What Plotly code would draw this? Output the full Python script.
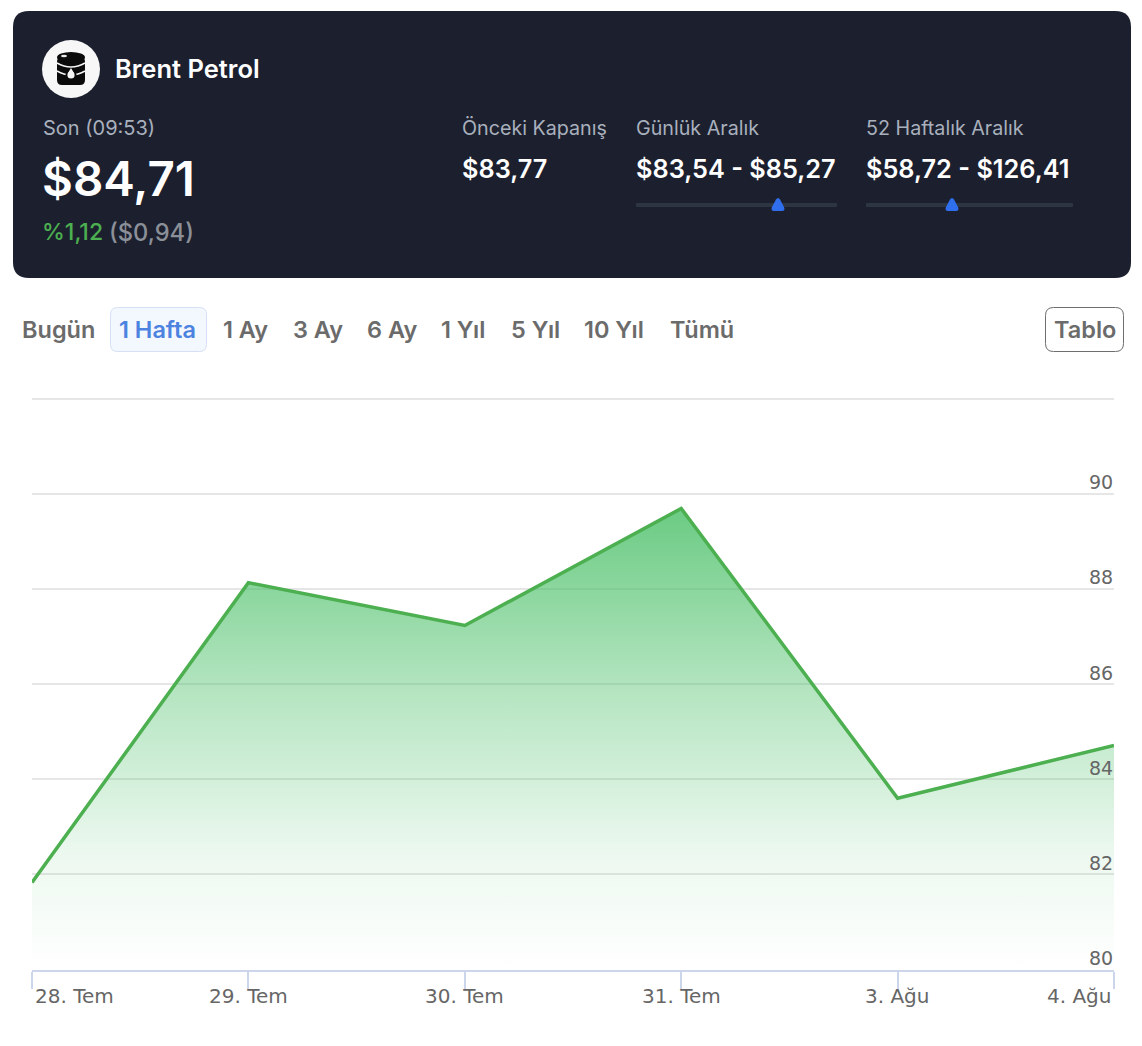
import plotly.graph_objects as go

W = 1142
H = 1046

dates = ["28. Tem", "29. Tem", "30. Tem", "31. Tem", "3. Ağu", "4. Ağu"]
prices = [81.83, 88.13, 87.23, 89.69, 83.6, 84.71]
y_ticks = [80, 82, 84, 86, 88, 90, 92]
y_labels = ["80", "82", "84", "86", "88", "90", ""]

tabs = ["Bugün", "1 Hafta", "1 Ay", "3 Ay", "6 Ay", "1 Yıl", "5 Yıl", "10 Yıl", "Tümü"]
tab_x = [20.5, 117.5, 221.5, 292, 366, 439.5, 509.5, 582.5, 668.5]

stat_titles = ["Önceki Kapanış", "Günlük Aralık", "52 Haftalık Aralık"]
stat_values = ["$83,77", "$83,54 - $85,27", "$58,72 - $126,41"]
stat_x = [460.5, 634.5, 864.5]

FONT = "Inter, 'Noto Sans', sans-serif"
TICK_FONT = "'DejaVu Sans', Verdana, sans-serif"
GREEN = "#4caf50"


def px(x):
    return x / W


def py(y):
    return 1 - y / H


def round_rect(x0, y0, x1, y1, r):
    # svg path in paper coords, rounded corners
    rx = r / W
    ry = r / H
    a, b, c, d = px(x0), py(y0), px(x1), py(y1)
    return (
        f"M {a + rx} {b} L {c - rx} {b} Q {c} {b} {c} {b - ry} "
        f"L {c} {d + ry} Q {c} {d} {c - rx} {d} "
        f"L {a + rx} {d} Q {a} {d} {a} {d + ry} "
        f"L {a} {b - ry} Q {a} {b} {a + rx} {b} Z"
    )


def box(x0, y0, x1, y1, r, fill, line=None, width=1):
    return dict(
        type="path",
        xref="paper",
        yref="paper",
        path=round_rect(x0, y0, x1, y1, r),
        fillcolor=fill,
        line=dict(color=line or fill, width=width if line else 0),
        layer="below",
    )


def poly(points, fill):
    pts = [f"{px(x)} {py(y)}" for x, y in points]
    return dict(
        type="path",
        xref="paper",
        yref="paper",
        path="M " + " L ".join(pts) + " Z",
        fillcolor=fill,
        line=dict(width=0),
        layer="below",
    )


def band(x0, x1, y_edge, y_mid, color):
    # curved strap across the barrel
    mid = (x0 + x1) / 2
    return dict(
        type="path",
        xref="paper",
        yref="paper",
        path=f"M {px(x0)} {py(y_edge)} Q {px(mid)} {py(y_mid)} {px(x1)} {py(y_edge)}",
        line=dict(color=color, width=1.6),
        layer="below",
    )


def marker(cx):
    # small rounded triangle on the range bars
    x = lambda d: px(cx + d)
    y = lambda v: py(v)
    path = (
        f"M {x(-2)} {y(199.5)} Q {x(0)} {y(196.5)} {x(2)} {y(199.5)} "
        f"L {x(6)} {y(207)} Q {x(7.5)} {y(211)} {x(4)} {y(211)} "
        f"L {x(-4)} {y(211)} Q {x(-7.5)} {y(211)} {x(-6)} {y(207)} Z"
    )
    return dict(
        type="path",
        xref="paper",
        yref="paper",
        path=path,
        fillcolor="#2f6fed",
        line=dict(width=0),
        layer="below",
    )


def circle(cx, cy, rx, ry, fill):
    return dict(
        type="circle",
        xref="paper",
        yref="paper",
        x0=px(cx - rx),
        x1=px(cx + rx),
        y0=py(cy + ry),
        y1=py(cy - ry),
        fillcolor=fill,
        line=dict(width=0),
        layer="below",
    )


def label(text, x, y, size, color, weight=400, anchor="left"):
    return dict(
        text=text,
        xref="paper",
        yref="paper",
        x=px(x),
        y=py(y),
        xanchor=anchor,
        yanchor="middle",
        showarrow=False,
        borderpad=0,
        font=dict(family=FONT, size=size, color=color, weight=weight),
    )


fig = go.Figure()

fig.add_trace(
    go.Scatter(
        x=list(range(len(dates))),
        y=prices,
        mode="lines",
        line=dict(color=GREEN, width=3.5),
        fill="tozeroy",
        fillgradient=dict(
            type="vertical",
            start=max(prices),
            stop=y_ticks[0],
            colorscale=[
                [0, "rgba(70,190,100,0.8)"],
                [0.4, "rgba(70,190,100,0.4)"],
                [0.75, "rgba(70,190,100,0.1)"],
                [1, "rgba(70,190,100,0)"],
            ],
        ),
        hoverinfo="x+y",
    )
)

shapes = [
    box(13, 11, 1131, 278, 16, "#1c202e"),
    # barrel icon
    circle(71, 69, 29, 29, "#f7f7f7"),
    box(57, 57, 85, 85, 5, "#0b0b0b"),
    circle(71, 57.5, 14, 5.5, "#0b0b0b"),
    circle(64, 56, 3, 1.2, "#e8e8e8"),
    band(57, 85, 63, 71, "#f7f7f7"),
    band(57, 85, 71, 79, "#f7f7f7"),
    circle(71, 75, 5.5, 5.2, "#0b0b0b"),
    circle(71, 75, 3.6, 3.6, "#f7f7f7"),
    poly([(71, 68), (68, 73), (74, 73)], "#f7f7f7"),
    # range sliders
    box(636, 203, 837, 207, 1, "#2d3543"),
    box(866, 203, 1073, 207, 1, "#2d3543"),
    marker(778),
    marker(952),
    # buttons
    box(110.5, 307.5, 206.5, 351.5, 7, "#f3f7fe", "#d6e0f5", 1),
    box(1045.5, 307.5, 1123.5, 351.5, 8, "#ffffff", "#6e6e6e", 1),
]

annotations = [
    label("Brent Petrol", 113.5, 69, 25.5, "#ffffff", 600),
    label("Son (09:53)", 41.5, 127.5, 20, "#a9b0bd"),
    label("$84,71", 41, 178, 47.5, "#ffffff", 600),
    label("%1,12", 40.5, 232, 23, GREEN, 500),
    label("($0,94)", 108, 232, 23.7, "#8b8f98", 500),
]

for title, value, x in zip(stat_titles, stat_values, stat_x):
    annotations.append(label(title, x, 128, 19.7, "#a9b0bd"))
    annotations.append(label(value, x, 168.5, 25.3, "#ffffff", 600))

for name, x in zip(tabs, tab_x):
    color = "#4c82e0" if name == "1 Hafta" else "#6b6b6b"
    annotations.append(label(name, x, 329.5, 23.5, color, 600))
annotations.append(label("Tablo", 1052.5, 329.5, 23.5, "#6b6b6b", 600))

# x labels sit inside the plot at both ends
for i, name in enumerate(dates):
    anchor = "center"
    shift = 0
    if i == 0:
        anchor, shift = "left", 2
    if i == len(dates) - 1:
        anchor, shift = "right", -1
    annotations.append(
        dict(
            text=name,
            xref="x",
            yref="paper",
            x=i,
            y=py(996),
            xanchor=anchor,
            xshift=shift,
            yanchor="middle",
            showarrow=False,
            borderpad=0,
            font=dict(family=TICK_FONT, size=20, color="#666666"),
        )
    )

# y labels sit just above their grid lines
for value, text in zip(y_ticks, y_labels):
    if not text:
        continue
    annotations.append(
        dict(
            text=text,
            xref="paper",
            yref="y",
            x=px(1113.5),
            y=value,
            xanchor="right",
            yanchor="middle",
            yshift=11.5,
            showarrow=False,
            borderpad=0,
            font=dict(family=TICK_FONT, size=19, color="#666666"),
        )
    )

fig.update_layout(
    width=W,
    height=H,
    margin=dict(l=0, r=0, t=0, b=0),
    paper_bgcolor="#ffffff",
    plot_bgcolor="rgba(0,0,0,0)",
    showlegend=False,
    shapes=shapes,
    annotations=annotations,
)

fig.update_xaxes(
    domain=[px(32), px(1114)],
    range=[0, len(dates) - 1],
    tickvals=list(range(len(dates))),
    showticklabels=False,
    showgrid=False,
    zeroline=False,
    showline=True,
    linecolor="#ccd6eb",
    linewidth=2,
    ticks="outside",
    ticklen=17,
    tickwidth=2,
    tickcolor="#ccd6eb",
)

# top of range nudged past 92, plotly drops a grid line sitting right on the edge
fig.update_yaxes(
    domain=[py(969.5), py(396.2)],
    range=[y_ticks[0], y_ticks[-1] + 0.05],
    side="right",
    tickvals=y_ticks,
    showticklabels=False,
    ticks="",
    showgrid=True,
    gridcolor="#e6e6e6",
    gridwidth=2,
    zeroline=False,
    showline=False,
)

fig.write_html(
    "out.html",
    config=dict(displayModeBar=False),
    post_script="document.body.style.margin='0';document.body.style.overflow='hidden';",
)
